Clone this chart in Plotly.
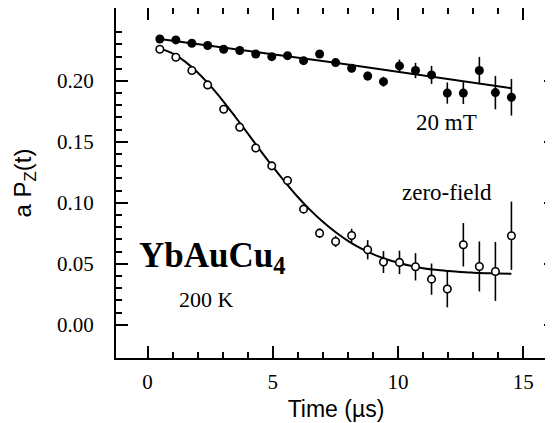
import plotly.graph_objects as go

# ---- data ----
time_us = [0.49, 1.13, 1.77, 2.40, 3.04, 3.68, 4.32, 4.96, 5.59, 6.23, 6.87, 7.51,
           8.15, 8.79, 9.42, 10.06, 10.70, 11.34, 11.97, 12.61, 13.25, 13.89, 14.53]

p_20mT = [0.2344, 0.2336, 0.2309, 0.2290, 0.2260, 0.2249, 0.2221, 0.2199, 0.2207,
          0.2166, 0.2221, 0.2150, 0.2104, 0.2040, 0.1994, 0.2123, 0.2085, 0.2049,
          0.1900, 0.1900, 0.2085, 0.1904, 0.1866]
err_20mT = [0.0015, 0.0015, 0.0016, 0.0017, 0.0018, 0.0019, 0.0020, 0.0022, 0.0024,
            0.0026, 0.0028, 0.0030, 0.0033, 0.0036, 0.0040, 0.0052, 0.0063, 0.0074,
            0.0087, 0.0090, 0.0112, 0.0137, 0.0150]

p_zf = [0.2260, 0.2194, 0.2085, 0.1967, 0.1768, 0.1620, 0.1450, 0.1303, 0.1183,
        0.0948, 0.0751, 0.0683, 0.0732, 0.0615, 0.0514, 0.0511, 0.0475, 0.0374,
        0.0293, 0.0656, 0.0478, 0.0437, 0.0730]
err_zf = [0.0015, 0.0016, 0.0017, 0.0018, 0.0019, 0.0021, 0.0023, 0.0026, 0.0029,
          0.0033, 0.0038, 0.0046, 0.0055, 0.0079, 0.0090, 0.0096, 0.0112, 0.0128,
          0.0150, 0.0178, 0.0205, 0.0242, 0.0280]

fit_20mT_t = [0.49, 7.5, 14.53]
fit_20mT_y = [0.2344, 0.2148, 0.1940]

fit_zf_t = [0.49, 1.0, 1.5, 2.0, 2.5, 3.0, 3.5, 4.0, 4.5, 5.0, 5.5, 6.0, 6.5, 7.0,
            7.5, 8.0, 8.5, 9.0, 9.5, 10.0, 10.5, 11.0, 11.5, 12.0, 12.5, 13.0,
            13.5, 14.0, 14.53]
fit_zf_y = [0.2267, 0.2225, 0.2158, 0.2069, 0.1961, 0.1839, 0.1706, 0.1569, 0.1431,
            0.1296, 0.1168, 0.1048, 0.0940, 0.0844, 0.0760, 0.0688, 0.0628, 0.0579,
            0.0539, 0.0508, 0.0483, 0.0464, 0.0450, 0.0440, 0.0432, 0.0427, 0.0423,
            0.0420, 0.0418]

x_major = [0, 5, 10, 15]
x_minor = [1, 2, 3, 4, 6, 7, 8, 9, 11, 12, 13, 14]
y_major = [0.00, 0.05, 0.10, 0.15, 0.20]
y_major_text = ["0.00", "0.05", "0.10", "0.15", "0.20"]
y_minor = [0.01, 0.02, 0.03, 0.04, 0.06, 0.07, 0.08, 0.09, 0.11, 0.12, 0.13, 0.14,
           0.16, 0.17, 0.18, 0.19, 0.21, 0.22, 0.23, 0.24]

X_RANGE = [-1.26, 16.31]
Y_RANGE = [-0.0273, 0.2598]

SERIF = "Liberation Serif, Times New Roman, serif"
SANS = "Liberation Sans, Arial, sans-serif"

fig = go.Figure()

fig.add_trace(go.Scatter(x=fit_zf_t, y=fit_zf_y, mode="lines",
                         line=dict(color="black", width=2, shape="spline"),
                         showlegend=False, hoverinfo="skip"))
fig.add_trace(go.Scatter(x=fit_20mT_t, y=fit_20mT_y, mode="lines",
                         line=dict(color="black", width=2, shape="spline"),
                         showlegend=False, hoverinfo="skip"))

fig.add_trace(go.Scatter(x=time_us, y=p_20mT, mode="markers",
                         marker=dict(symbol="circle", size=9, color="black"),
                         error_y=dict(type="data", array=err_20mT, color="black",
                                      thickness=1.6, width=0),
                         showlegend=False))
fig.add_trace(go.Scatter(x=time_us, y=p_zf, mode="markers",
                         marker=dict(symbol="circle", size=7.5, color="white",
                                     line=dict(color="black", width=1.6)),
                         error_y=dict(type="data", array=err_zf, color="black",
                                      thickness=1.6, width=0),
                         showlegend=False))

axis_common = dict(ticks="inside", tickcolor="black", tickwidth=1.5,
                   showgrid=False, zeroline=False, automargin=False,
                   showline=True, linecolor="black", linewidth=2, mirror="ticks")

fig.update_layout(
    width=553, height=423,
    margin=dict(l=108, r=5, t=0, b=73),
    paper_bgcolor="white", plot_bgcolor="white",
    xaxis=dict(range=X_RANGE, tickmode="array", tickvals=x_major,
               ticklen=12,
               minor=dict(tickmode="array", tickvals=x_minor, ticklen=6,
                          ticks="inside", tickcolor="black", tickwidth=1.5),
               tickfont=dict(family=SERIF, size=21, color="black"),
               ticklabelstandoff=4,
               title=dict(text="Time (µs)", font=dict(family=SANS, size=23, color="black"),
                          standoff=8),
               **axis_common),
    yaxis=dict(range=Y_RANGE, tickmode="array", tickvals=y_major, ticktext=y_major_text,
               ticklen=12,
               minor=dict(tickmode="array", tickvals=y_minor, ticklen=6,
                          ticks="inside", tickcolor="black", tickwidth=1.5),
               tickfont=dict(family=SERIF, size=21, color="black"),
               ticklabelstandoff=16,
               title=dict(text="a P<sub>Z</sub>(t)", font=dict(family=SANS, size=24, color="black"),
                          standoff=19),
               **axis_common),
)

fig.add_annotation(x=11.94, y=0.1656, xref="x", yref="y", text="20 mT", showarrow=False,
                   font=dict(family=SERIF, size=23, color="black"))
fig.add_annotation(x=11.94, y=0.1082, xref="x", yref="y", text="zero-field", showarrow=False,
                   font=dict(family=SERIF, size=23, color="black"))
fig.add_annotation(x=-0.43, y=0.0553, xref="x", yref="y", text="<b>YbAuCu<sub>4</sub></b>",
                   showarrow=False, xanchor="left",
                   font=dict(family=SERIF, size=35, color="black"))
fig.add_annotation(x=2.36, y=0.0205, xref="x", yref="y", text="200 K", showarrow=False,
                   font=dict(family=SERIF, size=22, color="black"))

fig.write_html("out.html")
